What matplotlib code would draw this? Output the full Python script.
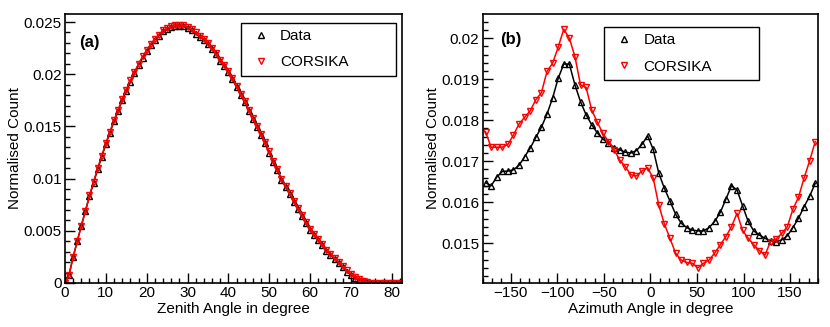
import numpy as np
import matplotlib
matplotlib.use("Agg")
import matplotlib.pyplot as plt
from matplotlib.lines import Line2D
from matplotlib.ticker import MultipleLocator

plt.rcParams['font.family'] = ['Liberation Sans', 'DejaVu Sans']
plt.rcParams['font.size'] = 11

# (a) zenith angle distribution, 1 degree bins
zenith = np.arange(0, 83)
zenith_data = [
    0.0, 0.0008, 0.0025, 0.0040, 0.0055, 0.0069, 0.0083, 0.0096, 0.0109, 0.0121,
    0.0133, 0.0144, 0.0155, 0.0165, 0.0175, 0.0184, 0.0193, 0.0201, 0.0209, 0.0216,
    0.0222, 0.0228, 0.0233, 0.0237, 0.0241, 0.0243, 0.0245, 0.0246, 0.0246, 0.0246,
    0.0244, 0.0242, 0.0239, 0.0236, 0.0233, 0.0229, 0.0224, 0.0219, 0.0213, 0.0208,
    0.0202, 0.0195, 0.0188, 0.0180, 0.0173, 0.0165, 0.0157, 0.0149, 0.0142, 0.0134,
    0.0125, 0.0116, 0.0108, 0.0099, 0.0092, 0.0085, 0.0078, 0.0071, 0.0064, 0.0057,
    0.0051, 0.0046, 0.0041, 0.0036, 0.0031, 0.0027, 0.0023, 0.0019, 0.0015, 0.0011,
    0.0008, 0.0005, 0.0003, 0.0002, 0.0001, 0.00003, 0.0, 0.0, 0.0, 0.0,
    0.0, 0.0, 0.0,
]
zenith_corsika = [
    0.0, 0.0008, 0.0025, 0.0040, 0.0055, 0.0069, 0.0084, 0.0097, 0.0110, 0.0122,
    0.0134, 0.0145, 0.0156, 0.0166, 0.0176, 0.0185, 0.0194, 0.0202, 0.0210, 0.0217,
    0.0223, 0.0229, 0.0234, 0.0238, 0.0242, 0.0244, 0.0246, 0.0247, 0.0247, 0.0247,
    0.0245, 0.0243, 0.0240, 0.0237, 0.0234, 0.0230, 0.0225, 0.0220, 0.0214, 0.0209,
    0.0203, 0.0196, 0.0189, 0.0181, 0.0174, 0.0166, 0.0158, 0.0150, 0.0143, 0.0135,
    0.0126, 0.0117, 0.0109, 0.0100, 0.0093, 0.0086, 0.0079, 0.0072, 0.0065, 0.0058,
    0.0052, 0.0047, 0.0042, 0.0037, 0.0032, 0.0028, 0.0024, 0.0020, 0.0016, 0.0012,
    0.0009, 0.0006, 0.0004, 0.0002, 0.0001, 0.00003, 0.00001, 0.00001, 0.00001, 0.00001,
    0.00001, 0.00001, 0.00001,
]

# (b) azimuth angle distribution, 6 degree bins
azimuth = np.arange(-177, 180, 6)
azimuth_data = [
    0.01648, 0.01640, 0.01661, 0.01675, 0.01676, 0.01679, 0.01690, 0.01711, 0.01732, 0.01758,
    0.01783, 0.01815, 0.01854, 0.01902, 0.01937, 0.01937, 0.01886, 0.01845, 0.01813, 0.01789,
    0.01769, 0.01754, 0.01744, 0.01733, 0.01728, 0.01722, 0.01720, 0.01726, 0.01741, 0.01762,
    0.01729, 0.01671, 0.01634, 0.01603, 0.01571, 0.01549, 0.01538, 0.01532, 0.01530, 0.01530,
    0.01538, 0.01553, 0.01575, 0.01607, 0.01640, 0.01630, 0.01591, 0.01553, 0.01530, 0.01520,
    0.01512, 0.01506, 0.01504, 0.01508, 0.01518, 0.01538, 0.01561, 0.01589, 0.01615, 0.01646,
]
azimuth_corsika = [
    0.01772, 0.01734, 0.01734, 0.01734, 0.01741, 0.01764, 0.01791, 0.01807, 0.01823, 0.01850,
    0.01867, 0.01919, 0.01939, 0.01978, 0.02022, 0.02000, 0.01955, 0.01886, 0.01880, 0.01825,
    0.01795, 0.01768, 0.01748, 0.01728, 0.01703, 0.01687, 0.01667, 0.01664, 0.01676, 0.01684,
    0.01659, 0.01593, 0.01547, 0.01512, 0.01476, 0.01459, 0.01453, 0.01451, 0.01440, 0.01451,
    0.01459, 0.01476, 0.01496, 0.01516, 0.01540, 0.01573, 0.01531, 0.01512, 0.01496, 0.01482,
    0.01471, 0.01504, 0.01510, 0.01524, 0.01540, 0.01583, 0.01612, 0.01659, 0.01701, 0.01748,
]

MS = 4.8


def style_axis(ax, xmaj, xmin, ymaj, ymin):
    ax.xaxis.set_major_locator(MultipleLocator(xmaj))
    ax.xaxis.set_minor_locator(MultipleLocator(xmin))
    ax.yaxis.set_major_locator(MultipleLocator(ymaj))
    ax.yaxis.set_minor_locator(MultipleLocator(ymin))
    ax.yaxis.set_major_formatter(plt.FuncFormatter(lambda v, p: '%g' % round(v, 4)))
    ax.tick_params(which='both', direction='in', top=False, right=False, width=1)
    ax.tick_params(which='major', length=7, pad=2.5, labelsize=11)
    ax.tick_params(which='minor', length=3.5)
    for s in ax.spines.values():
        s.set_linewidth(1.2)


def draw(ax, x, d, c):
    ax.plot(x, d, color='black', lw=1.1, marker='^', ms=MS, mfc='none',
            mec='black', mew=1.0)
    ax.plot(x, c, color='red', lw=1.1, marker='v', ms=MS, mfc='none',
            mec='red', mew=1.0)


def add_legend(ax, anchor):
    handles = [
        Line2D([], [], lw=0, marker='^', ms=MS, mfc='none', mec='black', mew=1.0),
        Line2D([], [], lw=0, marker='v', ms=MS, mfc='none', mec='red', mew=1.0),
    ]
    leg = ax.legend(handles, ['Data', 'CORSIKA'], loc='upper left',
                    bbox_to_anchor=anchor, mode='expand', borderaxespad=0,
                    fancybox=False, edgecolor='black', framealpha=1, fontsize=11,
                    labelspacing=0.8, borderpad=0.42, handlelength=1.8,
                    handletextpad=0.35, numpoints=1)
    leg.get_frame().set_linewidth(1.0)


fig = plt.figure(figsize=(8.3, 3.27), dpi=100)
ax1 = fig.add_axes([0.0783, 0.1346, 0.4060, 0.8226])
ax2 = fig.add_axes([0.5816, 0.1346, 0.4040, 0.8226])

draw(ax1, zenith, zenith_data, zenith_corsika)
ax1.set_xlim(0, 82.5)
ax1.set_ylim(0, 0.02577)
style_axis(ax1, 10, 2, 0.005, 0.001)
ax1.set_xlabel('Zenith Angle in degree', fontsize=11, labelpad=1)
ax1.set_ylabel('Normalised Count', fontsize=11, labelpad=1)
ax1.text(0.043, 0.895, '(a)', transform=ax1.transAxes, fontsize=12,
         fontweight='bold', va='center', ha='left')
add_legend(ax1, (0.521, 0.968, 0.46, 0.0))

draw(ax2, azimuth, azimuth_data, azimuth_corsika)
ax2.set_xlim(-180, 180)
ax2.set_ylim(0.01403, 0.02059)
style_axis(ax2, 50, 10, 0.001, 0.0002)
ax2.set_xlabel('Azimuth Angle in degree', fontsize=11, labelpad=1)
ax2.set_ylabel('Normalised Count', fontsize=11, labelpad=1)
ax2.text(0.051, 0.905, '(b)', transform=ax2.transAxes, fontsize=12,
         fontweight='bold', va='center', ha='left')
add_legend(ax2, (0.362, 0.952, 0.462, 0.0))

fig.savefig('out.png', dpi=100)
